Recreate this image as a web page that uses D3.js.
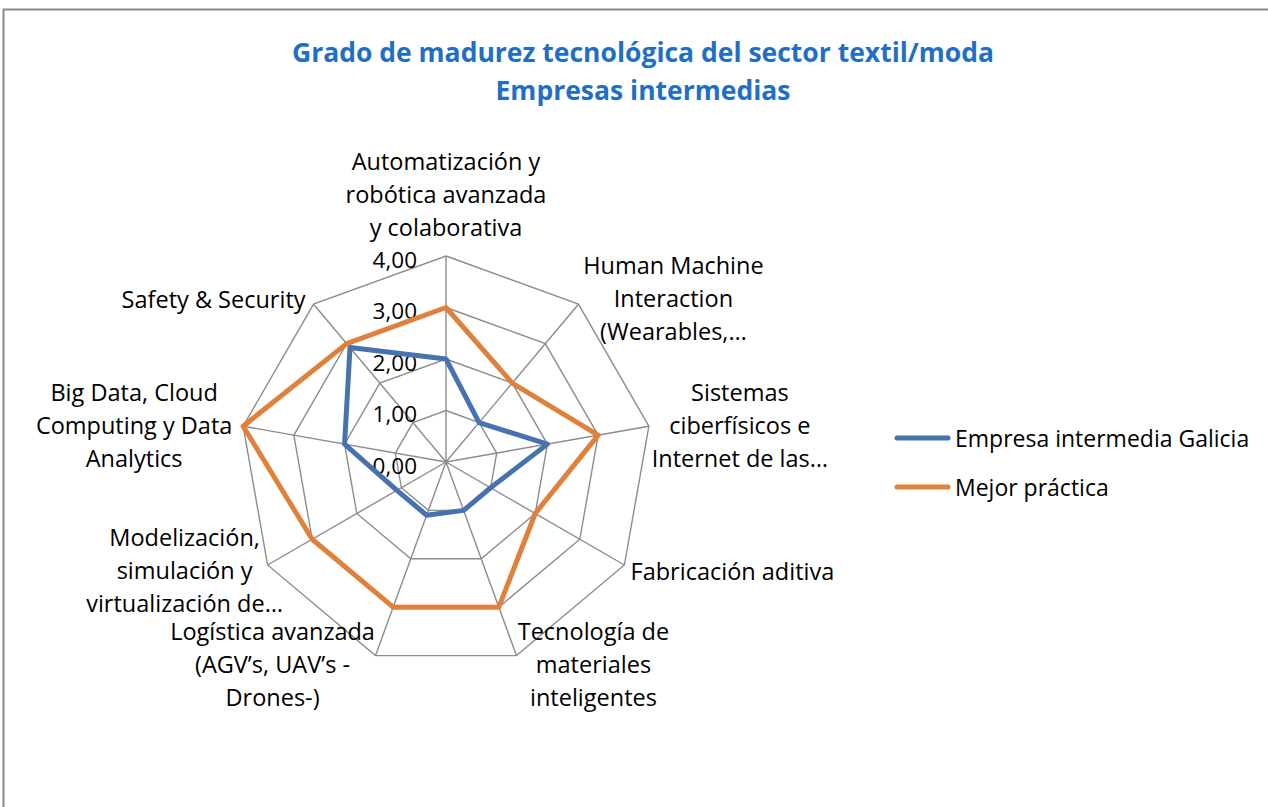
<!DOCTYPE html>
<html>
<head>
<meta charset="utf-8">
<script src="https://cdn.jsdelivr.net/npm/d3@7.9.0/dist/d3.min.js"></script>
<style>
  body { margin: 0; background: #fff; }
  svg { display: block; font-family: "Open Sans", Lato, sans-serif; }
</style>
</head>
<body>
<svg id="chart" width="1268" height="807"></svg>
<script>
// data
const categories = [
  ["Automatización y", "robótica avanzada", "y colaborativa"],
  ["Human Machine", "Interaction", "(Wearables,…"],
  ["Sistemas", "ciberfísicos e", "Internet de las…"],
  ["Fabricación aditiva"],
  ["Tecnología de", "materiales", "inteligentes"],
  ["Logística avanzada", "(AGV’s, UAV’s -", "Drones-)"],
  ["Modelización,", "simulación y", "virtualización de…"],
  ["Big Data, Cloud", "Computing y Data", "Analytics"],
  ["Safety & Security"]
];
const seriesNames = ["Empresa intermedia Galicia", "Mejor práctica"];
const galicia = [2.0, 1.0, 2.0, 1.0, 1.0, 1.1, 1.1, 2.0, 2.9];
const mejor   = [3.0, 2.0, 3.0, 2.0, 3.0, 3.0, 3.0, 4.0, 3.0];
const ticks = [0, 1, 2, 3, 4];
const tickLabels = ["0,00", "1,00", "2,00", "3,00", "4,00"];

// label block centre offsets from each outer vertex (layout only)
const labelShift = [[0, -62], [95, -6], [91, -1], [108, 6], [77, 8], [-103, 8], [-83, 5], [-109, -1], [-100, -5]];

const svg = d3.select("#chart");
const cx = 446, cy = 462, R = 206;
const n = categories.length;
const r = d3.scaleLinear().domain([0, 4]).range([0, R]);
const angle = d3.scaleLinear().domain([0, n]).range([0, 2 * Math.PI]);
const pt = (i, v) => [cx + r(v) * Math.sin(angle(i)), cy - r(v) * Math.cos(angle(i))];

// chart frame
svg.append("rect")
  .attr("x", 3.5).attr("y", 9.5).attr("width", 1400).attr("height", 1000)
  .attr("fill", "none").attr("stroke", "#8a8a8a").attr("stroke-width", 2);

// title
const title = svg.append("text")
  .attr("text-anchor", "middle")
  .attr("fill", "#1f6fc6")
  .attr("font-weight", "bold")
  .attr("font-size", 26.5);
title.append("tspan").attr("x", 643).attr("y", 62).text("Grado de madurez tecnológica del sector textil/moda");
title.append("tspan").attr("x", 643).attr("y", 100).text("Empresas intermedias");

// grid rings
const ring = d3.line();
ticks.slice(1).forEach(t => {
  const pts = d3.range(n).map(i => pt(i, t));
  svg.append("path")
    .attr("d", ring(pts) + "Z")
    .attr("fill", "none").attr("stroke", "#8c8c8c").attr("stroke-width", 1.4);
});
// spokes
d3.range(n).forEach(i => {
  const [x, y] = pt(i, 4);
  svg.append("line")
    .attr("x1", cx).attr("y1", cy).attr("x2", x).attr("y2", y)
    .attr("stroke", "#8c8c8c").attr("stroke-width", 1.4);
});

// tick labels
svg.selectAll(".tick").data(ticks).join("text")
  .attr("x", cx - 29)
  .attr("y", d => cy - r(d) + 3)
  .attr("text-anchor", "end")
  .attr("dominant-baseline", "central")
  .attr("font-size", 22.5)
  .attr("fill", "#000")
  .text((d, i) => tickLabels[i]);

// series
const colors = ["#4672b0", "#e0803a"];
[galicia, mejor].forEach((vals, s) => {
  const pts = vals.map((v, i) => pt(i, v));
  svg.append("path")
    .attr("d", ring(pts) + "Z")
    .attr("fill", "none")
    .attr("stroke", colors[s])
    .attr("stroke-width", 5)
    .attr("stroke-linejoin", "round");
});

// category labels
const lineH = 33;
categories.forEach((lines, i) => {
  const [vx, vy] = pt(i, 4);
  const bx = vx + labelShift[i][0];
  const by = vy + labelShift[i][1];
  const t = svg.append("text")
    .attr("text-anchor", "middle")
    .attr("font-size", 23.5)
    .attr("fill", "#000");
  lines.forEach((l, k) => {
    t.append("tspan")
      .attr("x", bx)
      .attr("y", by + (k - (lines.length - 1) / 2) * lineH)
      .attr("dominant-baseline", "central")
      .text(l);
  });
});

// legend
const legend = svg.append("g");
seriesNames.forEach((name, s) => {
  const y = 438 + s * 49;
  legend.append("line")
    .attr("x1", 897).attr("x2", 948).attr("y1", y).attr("y2", y)
    .attr("stroke", colors[s]).attr("stroke-width", 5).attr("stroke-linecap", "round");
  legend.append("text")
    .attr("x", 955).attr("y", y)
    .attr("dominant-baseline", "central")
    .attr("font-size", 23)
    .attr("fill", "#000")
    .text(name);
});
</script>
</body>
</html>
